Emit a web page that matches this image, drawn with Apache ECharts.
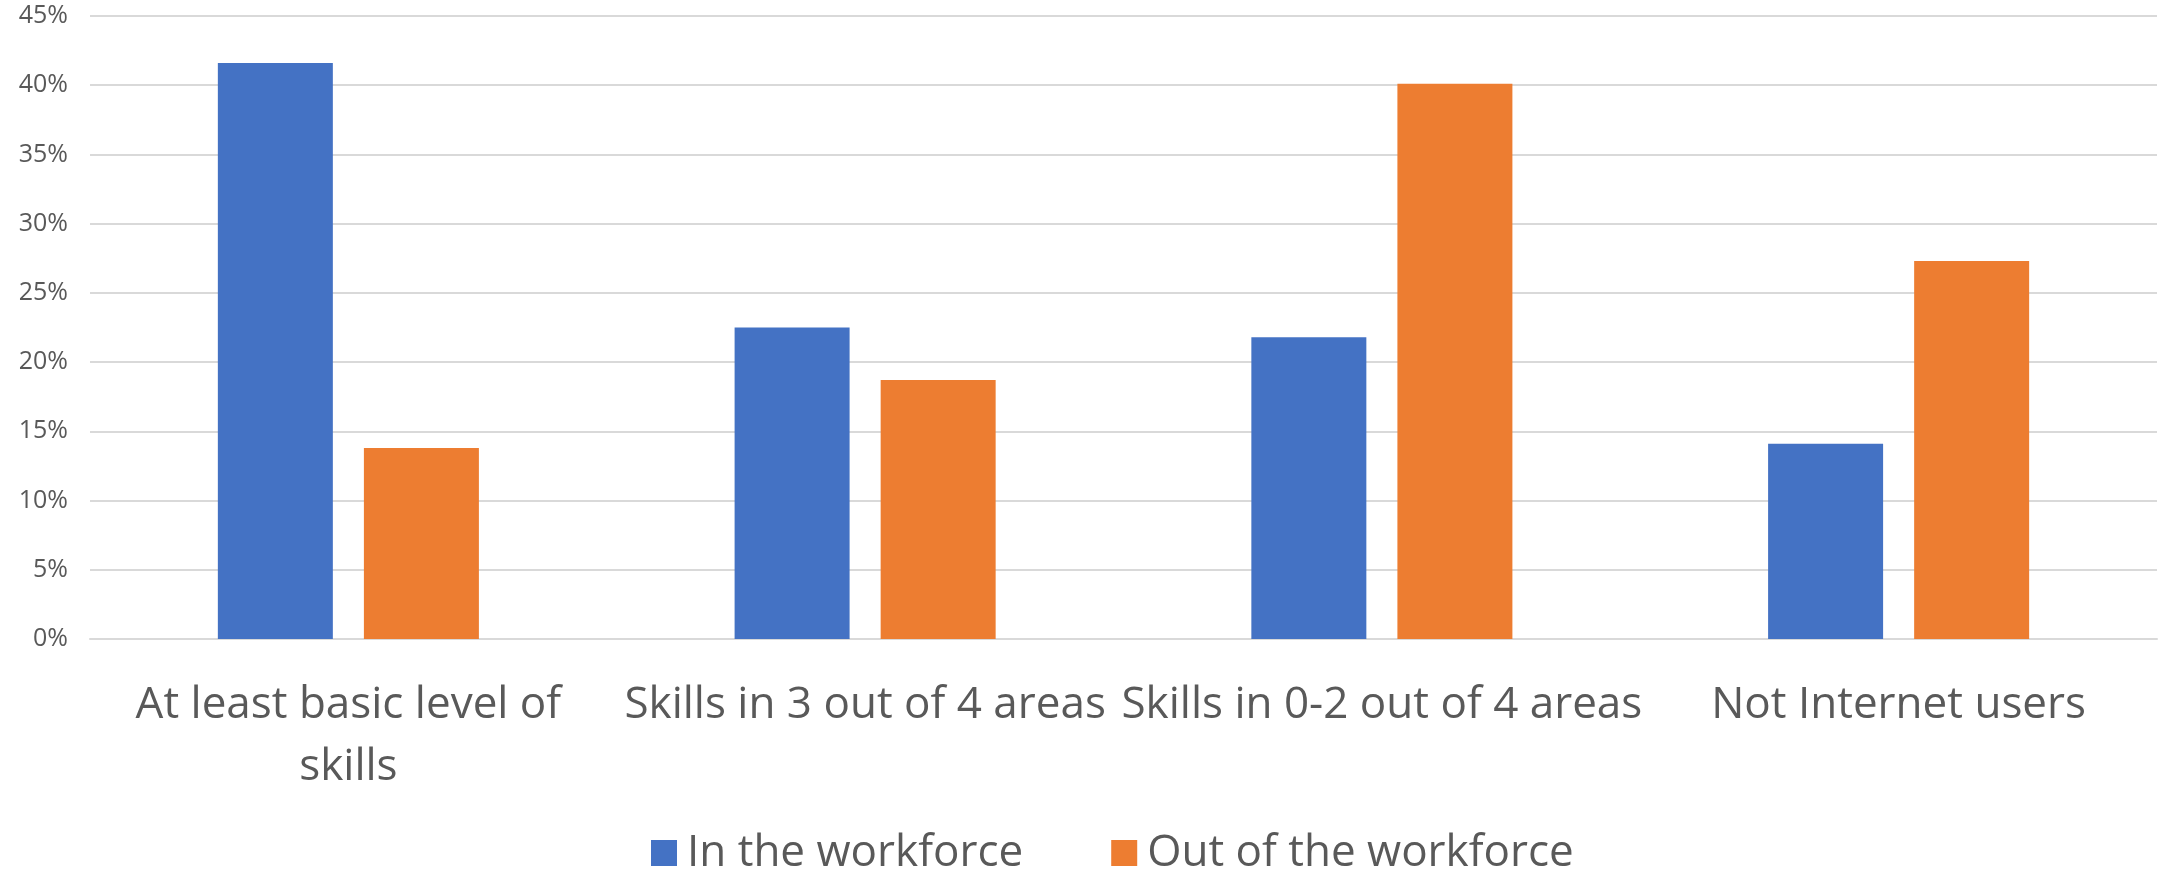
<!DOCTYPE html>
<html>
<head>
<meta charset="utf-8">
<script src="https://cdn.jsdelivr.net/npm/echarts@6/dist/echarts.min.js"></script>
<style>
  html, body { margin: 0; padding: 0; background: #fff; }
  #chart { width: 2159px; height: 872px; }
</style>
</head>
<body>
<div id="chart"></div>
<script>
const categories = [
  'At least basic level of\nskills',
  'Skills in 3 out of 4 areas',
  'Skills in 0-2 out of 4 areas',
  'Not Internet users'
];
const inWorkforce = [41.6, 22.5, 21.8, 14.1];
const outOfWorkforce = [13.8, 18.7, 40.1, 27.3];
const seriesNames = ['In the workforce', 'Out of the workforce'];

const textColor = '#595959';
const gridColor = '#d9d9d9';
const font = '"Open Sans", "Noto Sans", sans-serif';

let myChart = echarts.init(document.getElementById('chart'));
let option = {
  animation: false,
  color: ['#4472C4', '#ED7D31'],
  grid: {
    left: 90,
    right: 2,
    top: 16,
    bottom: 233
  },
  legend: {
    top: 826,
    left: 646,
    itemWidth: 26,
    itemHeight: 26,
    itemGap: 88,
    icon: 'rect',
    textStyle: {
      color: textColor,
      fontSize: 44,
      fontFamily: font,
      padding: [0, 0, 0, 5]
    },
    data: seriesNames
  },
  xAxis: {
    type: 'category',
    data: categories,
    axisLine: { lineStyle: { color: gridColor, width: 2 } },
    axisTick: { show: false },
    axisLabel: {
      color: textColor,
      fontSize: 44,
      fontFamily: font,
      lineHeight: 62,
      margin: 35,
      interval: 0
    }
  },
  yAxis: {
    type: 'value',
    min: 0,
    max: 45,
    interval: 5,
    axisLine: { show: false },
    axisTick: { show: false },
    splitLine: { lineStyle: { color: gridColor, width: 2 } },
    axisLabel: {
      color: textColor,
      fontSize: 25,
      fontFamily: font,
      margin: 22,
      formatter: '{value}%'
    }
  },
  series: [
    {
      name: seriesNames[0],
      type: 'bar',
      barWidth: 115,
      barGap: '27%',
      data: inWorkforce
    },
    {
      name: seriesNames[1],
      type: 'bar',
      barWidth: 115,
      data: outOfWorkforce
    }
  ]
};
myChart.setOption(option);
</script>
</body>
</html>
